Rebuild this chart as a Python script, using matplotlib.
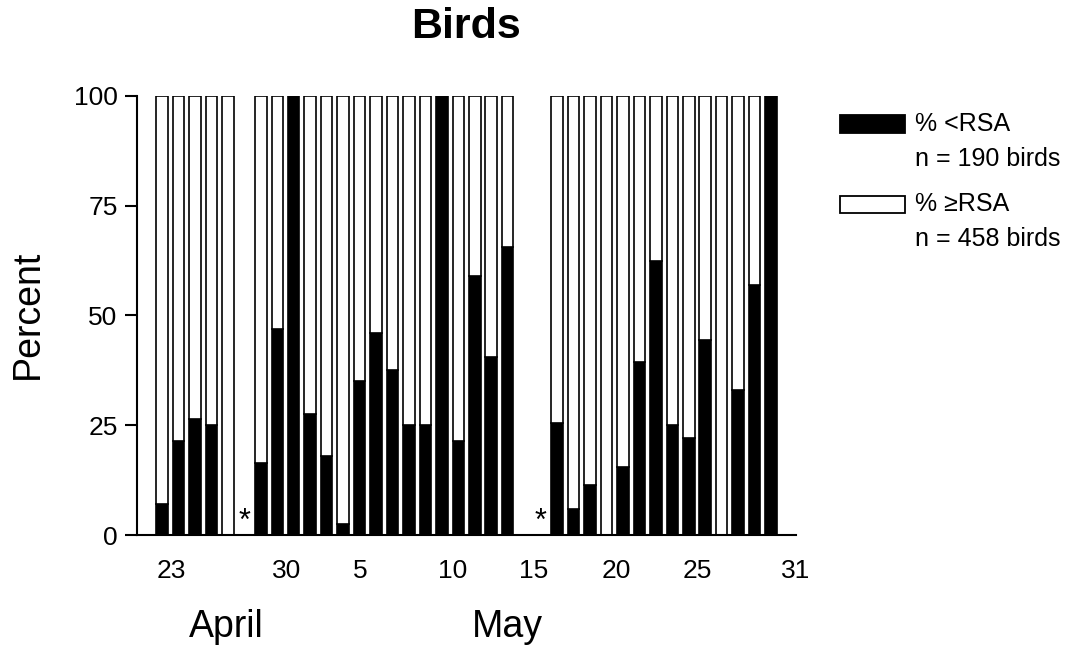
import numpy as np
import matplotlib

matplotlib.use("Agg")
import matplotlib.pyplot as plt
from matplotlib.patches import Rectangle

FONT = ["Liberation Sans", "DejaVu Sans"]
plt.rcParams["font.family"] = FONT

nan = np.nan

# one slot per sampling day, 23 April .. end of May; nan = no birds that day (*)
pct_below = [7, 21.5, 26.5, 25, 0, nan, 16.5, 47, 100, 27.5,
             18, 2.5, 35, 46, 37.5, 25, 25, 100, 21.5, 59,
             40.5, 65.5, nan, nan, 25.5, 6, 11.5, 0, 15.5, 39.5,
             62.5, 25, 22, 44.5, 0, 33, 57, 100]
tick_pos = [0.55, 7.54, 12.04, 17.63, 22.6, 27.6, 32.5, 38.5]
tick_labels = ["23", "30", "5", "10", "15", "20", "25", "31"]
star_slots = [5, 23]
legend_labels = [("% <RSA", "n = 190 birds"), ("% \u2265RSA", "n = 458 birds")]
legend_fill = ["black", "white"]

below = np.array(pct_below, dtype=float)
above = 100 - below
x = np.arange(len(below))
ok = ~np.isnan(below)

fig = plt.figure(figsize=(10.85, 6.53), dpi=100)
ax = fig.add_axes([0.1263, 0.1807, 0.6074, 0.6723])

ax.bar(x[ok], below[ok], width=0.7, color="black", edgecolor="black", linewidth=1.2)
ax.bar(x[ok], above[ok], bottom=below[ok], width=0.7, color="white",
       edgecolor="black", linewidth=1.2)
for s in star_slots:
    ax.text(s, -0.5, "*", ha="center", va="bottom", fontsize=22)

ax.set_xlim(-1.52, 38.52)
ax.set_ylim(0, 100)
for side in ("top", "right"):
    ax.spines[side].set_visible(False)
for side in ("left", "bottom"):
    ax.spines[side].set_linewidth(1.5)
ax.set_yticks([0, 25, 50, 75, 100])
ax.tick_params(axis="y", length=9, width=1.5, labelsize=19, pad=5)
ax.set_xticks(tick_pos, tick_labels)
ax.tick_params(axis="x", length=0, labelsize=19, pad=17)

# titles and month names
fig.text(466.5 / 1085, 1 - 27 / 653, "Birds", ha="center", va="center",
         fontsize=31, fontweight="bold")
fig.text(28 / 1085, 1 - 314 / 653, "Percent", ha="center", va="center",
         rotation=90, fontsize=27)
fig.text(226 / 1085, 1 - 627 / 653, "April", ha="center", va="center", fontsize=27)
fig.text(507 / 1085, 1 - 627 / 653, "May", ha="center", va="center", fontsize=27)

# legend, drawn by hand: swatch beside the first line of each entry
for i, ((lab, n), fc) in enumerate(zip(legend_labels, legend_fill)):
    yc = 124 + i * 80
    fig.patches.append(Rectangle((840 / 1085, 1 - (yc + 8.5) / 653), 65 / 1085, 17 / 653,
                                 facecolor=fc, edgecolor="black", linewidth=1.3,
                                 transform=fig.transFigure, figure=fig))
    fig.text(915 / 1085, 1 - yc / 653, lab, ha="left", va="center", fontsize=18)
    fig.text(915 / 1085, 1 - (yc + 35) / 653, n, ha="left", va="center", fontsize=18)

fig.savefig("out.png", dpi=100)
